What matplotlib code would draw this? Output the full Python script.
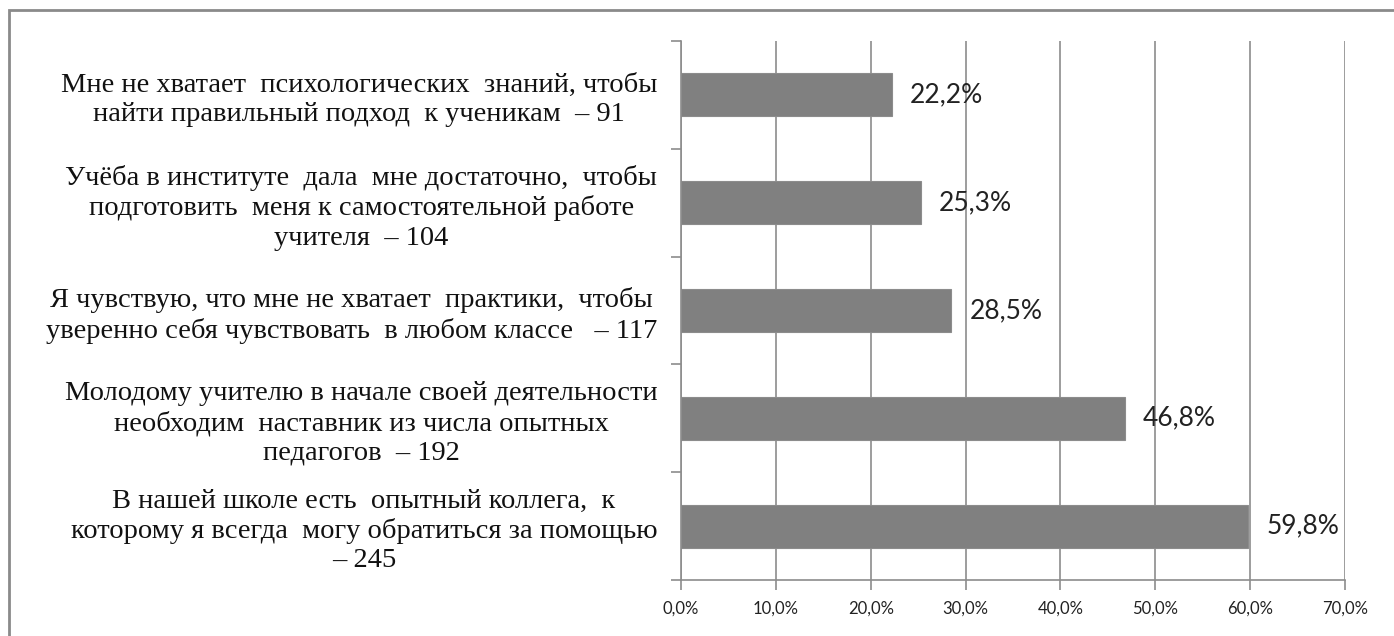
import matplotlib
matplotlib.use("Agg")
import matplotlib.pyplot as plt
from matplotlib.patches import Rectangle
from matplotlib.ticker import MultipleLocator, FuncFormatter

labels = [
    "Мне не хватает  психологических  знаний, чтобы\nнайти правильный подход  к ученикам  – 91",
    "Учёба в институте  дала  мне достаточно,  чтобы\nподготовить  меня к самостоятельной работе\nучителя  – 104",
    "Я чувствую, что мне не хватает  практики,  чтобы\nуверенно себя чувствовать  в любом классе   – 117",
    "Молодому учителю в начале своей деятельности\nнеобходим  наставник из числа опытных\nпедагогов  – 192",
    "В нашей школе есть  опытный коллега,  к\nкоторому я всегда  могу обратиться за помощью\n– 245",
]
values = [22.2, 25.3, 28.5, 46.8, 59.8]
value_labels = ["22,2%", "25,3%", "28,5%", "46,8%", "59,8%"]

fig = plt.figure(figsize=(13.94, 6.36), dpi=100)
ax = fig.add_axes([0.4885, 0.0881, 0.9649 - 0.4885, 0.9355 - 0.0881])

pos = list(range(len(values)))
ax.barh(pos, values, height=0.4, color="#808080", edgecolor="#8c8c8c", linewidth=0.8, zorder=3)
ax.set_ylim(len(values) - 0.5, -0.5)
ax.set_xlim(0, 70)

for p, v, t in zip(pos, values, value_labels):
    ax.annotate(t, (v, p), xytext=(13, 0), textcoords="offset points", va="center", ha="left",
                fontsize=19, family="Lato", color="#222222", zorder=4)

ax.xaxis.set_major_locator(MultipleLocator(10))
ax.xaxis.set_major_formatter(FuncFormatter(lambda x, _: f"{x:.1f}%".replace(".", ",")))
ax.grid(axis="x", color="#8c8c8c", linewidth=1.2, zorder=0)
ax.set_axisbelow(True)

ax.set_yticks(pos)
ax.set_yticklabels(labels, family="Liberation Serif", fontsize=20.5, color="#111111", linespacing=1.22)
for tl in ax.get_yticklabels():
    tl.set_multialignment("center")
ax.set_yticks([p + 0.5 for p in [-1] + pos], minor=True)
ax.tick_params(axis="y", which="major", length=0, pad=17)
ax.tick_params(axis="y", which="minor", length=7, width=1.2, color="#8c8c8c", direction="out")
ax.tick_params(axis="x", length=7, width=1.2, color="#8c8c8c", labelsize=12, pad=8)
for tl in ax.get_xticklabels():
    tl.set_family("Lato")
    tl.set_color("#222222")

for s in ["top", "right"]:
    ax.spines[s].set_visible(False)
for s in ["left", "bottom"]:
    ax.spines[s].set_color("#8c8c8c")
    ax.spines[s].set_linewidth(1.2)

fig.patches.append(Rectangle((9 / 1394, -0.1), 1.2, 1.1 - 10 / 636, transform=fig.transFigure,
                             fill=False, edgecolor="#8a8a8a", linewidth=2))

fig.savefig("out.png", dpi=100)
